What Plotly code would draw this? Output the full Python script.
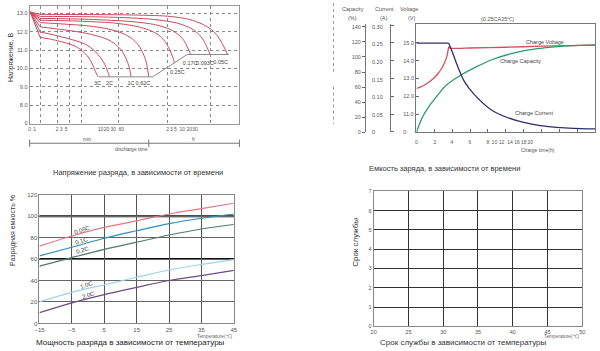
import plotly.graph_objects as go

W, H = 600, 351
def px(x): return x / W
def py(y): return 1 - y / H

FONT = "Liberation Sans, Arial, sans-serif"
GRAYTXT = "#555"

# ---------------- Top-left: discharge voltage vs time ----------------
tl_rates = ["3C", "2C", "1C", "0.62C", "0.25C", "0.17C", "0.093C", "0.05C"]
tl_start_u = 0.5
tl_start_v = 13.08
tl_u = {
    "3C":     [10.7, 20, 28.3, 37, 45, 52, 58.3, 62, 65, 67.5, 69.3],
    "2C":     [10.7, 28.3, 45, 55, 61.7, 67, 71.7, 75.5, 78.3, 80, 81],
    "1C":     [10.7, 28.3, 45, 61.7, 78.3, 87, 93, 97, 100, 102, 103],
    "0.62C":  [10.7, 35, 60, 80, 95, 104, 110, 114, 117.5, 119.5, 121],
    "0.25C":  [10.7, 50, 85, 108, 122, 131, 137, 141, 144, 146, 147],
    "0.17C":  [10.7, 60, 105, 128, 143, 152, 157.5, 160.5, 162.5, 163.3],
    "0.093C": [10.7, 80, 125, 150, 164, 172, 177.5, 181, 183.3],
    "0.05C":  [10.7, 100, 140, 161.7, 176, 185, 191, 195, 198.5, 201],
}
tl_v = {
    "3C":     [11.69, 11.61, 11.51, 11.39, 11.24, 11.02, 10.70, 10.42, 10.06, 9.75, 9.55],
    "2C":     [11.99, 11.78, 11.54, 11.36, 11.15, 10.9, 10.61, 10.3, 9.97, 9.72, 9.55],
    "1C":     [12.27, 12.15, 12.03, 11.87, 11.6, 11.32, 11.0, 10.65, 10.25, 9.85, 9.55],
    "0.62C":  [12.5, 12.42, 12.32, 12.15, 11.9, 11.62, 11.3, 10.95, 10.5, 10.05, 9.55],
    "0.25C":  [12.63, 12.58, 12.48, 12.3, 12.08, 11.82, 11.5, 11.15, 10.8, 10.5, 10.3],
    "0.17C":  [12.73, 12.68, 12.55, 12.38, 12.12, 11.8, 11.45, 11.12, 10.9, 10.76],
    "0.093C": [12.84, 12.8, 12.68, 12.47, 12.18, 11.85, 11.45, 11.05, 10.76],
    "0.05C":  [12.95, 12.92, 12.85, 12.68, 12.4, 12.1, 11.75, 11.4, 11.05, 10.76],
}
tl_label_u = [69, 81, 103, 115, 150, 163, 178, 194]
tl_label_v = [9.18, 9.18, 9.18, 9.18, 9.77, 10.26, 10.26, 10.33]
tl_cut_u = [70, 125, 160, 202]
tl_cut_v = [9.54, 9.54, 10.76, 10.76]
tl_xtickvals = [0, 5, 28, 32, 37, 72, 78, 85, 93, 140, 144, 148, 155, 162, 168]
tl_xticktext = ["0", "1", "2", "3", "5", "10", "20", "30", "60", "2", "3", "5", "10", "20", "30"]
tl_grid_u = [10.7, 28.3, 40, 52.7, 90, 140, 183.3]
tl_ytickvals = [7, 8, 9, 10, 11, 12, 13]
tl_yticktext = ["0", "8.0", "9.0", "10.0", "11.0", "12.0", "13.0"]

# ---------------- Top-right: charge characteristics ----------------
tr_volt_u = [0, 0.5, 1, 1.5, 2, 2.4, 2.8, 3.1, 3.35, 3.5, 3.62, 3.8, 6, 10, 14, 20]
tr_volt = [12.44, 12.53, 12.67, 12.84, 13.05, 13.27, 13.55, 13.85, 14.15, 14.45, 14.78,
           14.7, 14.72, 14.76, 14.82, 14.88]
tr_cur_flat_u = [0, 3.61]
tr_cur_flat = [0.254, 0.254]
tr_cur_u = [3.61, 4.09, 4.64, 5.38, 6.49, 8.32, 10.17, 12.01, 13.85, 15.69, 17.54, 20]
tr_cur = [0.254, 0.2235, 0.186, 0.144, 0.107, 0.065, 0.042, 0.028, 0.0187, 0.014, 0.011, 0.0095]
tr_cap_u = [0, 0.59, 1.33, 2.43, 3.3, 5.0, 6.8, 8.6, 10.5, 12.4, 14.5, 16.5, 20]
tr_cap = [0, 18, 33, 50, 62, 76, 87.5, 97, 104, 109, 112.5, 114.5, 116]
tr_xlabel_vals = [0, 2.07, 3.98, 6, 8, 8.73, 9.54, 10.47, 11.27, 12.01, 12.74]
tr_xlabel_text = ["0", "2", "4", "6", "8", "10", "12", "14", "16", "18", "20"]
tr_xtick_vals = [0, 2, 4, 6, 8, 10, 12, 14, 16, 18, 20]
tr_cap_ticks = [0, 20, 40, 60, 80, 100, 120, 140]
tr_cur_ticks = [0, 0.05, 0.10, 0.15, 0.20, 0.25, 0.30]
tr_cur_text = ["0", "0.05", "0.10", "0.15", "0.20", "0.25", "0.30"]
tr_volt_ticks = [10, 11, 12, 13, 14, 15, 16]
tr_volt_text = ["0", "11.0", "12.0", "13.0", "14.0", "15.0", ""]

# ---------------- Bottom-left: capacity vs temperature ----------------
bl_temp = [-15, -5, 5, 15, 25, 35, 45]
bl_rates = ["0.05C", "0.1C", "0.2C", "1.0C", "2.0C"]
bl_cap = {
    "0.05C": [72, 81.5, 89.5, 95.6, 102, 107, 112],
    "0.1C":  [63, 71, 79.4, 86.4, 93, 98, 102],
    "0.2C":  [53.4, 61.4, 69, 75.7, 82.4, 88, 92.2],
    "1.0C":  [20.2, 29, 36, 43, 49.8, 55, 59.5],
    "2.0C":  [10, 19.2, 26.9, 33.6, 40, 44.6, 49.5],
}
bl_colors = {"0.05C": "#e27a83", "0.1C": "#2b8fc2", "0.2C": "#52786f",
             "1.0C": "#9fd4e6", "2.0C": "#6d4b86"}
bl_label_x = [-1.8, -2.1, -1.6, -0.5, 0.2]
bl_label_y = [87, 77, 68.4, 36, 26.3]
bl_xticks = [-15, -5, 5, 15, 25, 35, 45]
bl_yticks = [0, 20, 40, 60, 80, 100, 120]
bl_bold_lines = [60, 100]

# ---------------- Bottom-right: service life vs temperature ----------------
br_xticks = [20, 25, 30, 35, 40, 45, 50]
br_yticks = [0, 1, 2, 3, 4, 5, 6, 7]

fig = go.Figure()

RED = "#c94a5e"
for r in tl_rates:
    fig.add_trace(go.Scatter(x=[tl_start_u, tl_u[r][0]], y=[tl_start_v, tl_v[r][0]],
                             mode="lines", line=dict(color=RED, width=1),
                             xaxis="x", yaxis="y", hoverinfo="skip"))
    fig.add_trace(go.Scatter(x=tl_u[r], y=tl_v[r], mode="lines",
                             line=dict(color=RED, width=1, shape="spline", smoothing=0.8),
                             xaxis="x", yaxis="y", hoverinfo="skip"))
fig.add_trace(go.Scatter(x=tl_cut_u, y=tl_cut_v, mode="lines",
                         line=dict(color="#8a8a8a", width=1), xaxis="x", yaxis="y"))
fig.add_trace(go.Scatter(x=tl_label_u, y=tl_label_v, mode="text", text=tl_rates,
                         textfont=dict(size=5.5, color="#444", family=FONT),
                         xaxis="x", yaxis="y"))
# anchor trace for the grid overlay axis
fig.add_trace(go.Scatter(x=[None], y=[None], mode="lines", xaxis="x2", yaxis="y",
                         showlegend=False))

# top-right curves
fig.add_trace(go.Scatter(x=tr_volt_u, y=tr_volt, mode="lines",
                         line=dict(color="#d0505c", width=1.3, shape="spline", smoothing=0.5),
                         xaxis="x3", yaxis="y3"))
fig.add_trace(go.Scatter(x=tr_cap_u, y=tr_cap, mode="lines",
                         line=dict(color="#2f9a6a", width=1.3, shape="spline", smoothing=0.8),
                         xaxis="x3", yaxis="y5"))
fig.add_trace(go.Scatter(x=tr_cur_flat_u, y=tr_cur_flat, mode="lines",
                         line=dict(color="#2c2f6e", width=1.3), xaxis="x3", yaxis="y6"))
fig.add_trace(go.Scatter(x=tr_cur_u, y=tr_cur, mode="lines",
                         line=dict(color="#2c2f6e", width=1.3, shape="spline", smoothing=0.8),
                         xaxis="x3", yaxis="y6"))
fig.add_trace(go.Scatter(x=[None], y=[None], mode="lines", xaxis="x4", yaxis="y3"))
fig.add_trace(go.Scatter(x=[None], y=[None], mode="lines", xaxis="x3", yaxis="y4"))

# bottom-left curves
for r in bl_rates:
    fig.add_trace(go.Scatter(x=bl_temp, y=bl_cap[r], mode="lines",
                             line=dict(color=bl_colors[r], width=1.2, shape="spline"),
                             xaxis="x5", yaxis="y7"))
# bottom-right (empty chart)
fig.add_trace(go.Scatter(x=[None], y=[None], mode="lines", xaxis="x6", yaxis="y8"))

tick_font = dict(size=5.5, color=GRAYTXT, family=FONT)

layout = dict(
    width=W, height=H, margin=dict(l=0, r=0, t=0, b=0),
    paper_bgcolor="white", plot_bgcolor="white", showlegend=False,
    font=dict(family=FONT),
    # top-left
    xaxis=dict(domain=[px(25), px(238)], range=[0, 213], anchor="y",
               tickvals=tl_xtickvals, ticktext=tl_xticktext, tickangle=0,
               ticks="", showgrid=False, zeroline=False, showline=True, mirror=True,
               linecolor="#999", linewidth=1, tickfont=dict(size=5, color=GRAYTXT, family=FONT)),
    xaxis2=dict(overlaying="x", anchor="y", range=[0, 213], tickvals=tl_grid_u,
                showticklabels=False, ticks="", showgrid=True, griddash="dot",
                gridcolor="#8a8a8a", gridwidth=1, zeroline=False, showline=False),
    yaxis=dict(domain=[py(123), py(3)], range=[6.97, 13.41], anchor="x",
               tickvals=tl_ytickvals, ticktext=tl_yticktext, ticks="",
               showgrid=True, griddash="dot", gridcolor="#8a8a8a", gridwidth=1,
               zeroline=False, showline=True, mirror=True, linecolor="#999",
               tickfont=tick_font),
    # top-right
    xaxis3=dict(domain=[px(417.7), px(599)], range=[0, 20], anchor="y3",
                tickvals=tr_xtick_vals, ticks="inside", ticklen=3, tickcolor="#666",
                showticklabels=False, showgrid=False, zeroline=False,
                showline=True, mirror=True, linecolor="#777"),
    xaxis4=dict(overlaying="x3", anchor="y3", range=[0, 20],
                tickvals=tr_xlabel_vals, ticktext=tr_xlabel_text, tickangle=0,
                ticks="outside", ticklen=5, tickcolor="rgba(0,0,0,0)",
                showgrid=False, zeroline=False, showline=False,
                tickfont=dict(size=5, color=GRAYTXT, family=FONT)),
    yaxis3=dict(domain=[py(131.5), py(21.7)], range=[9.98, 16.05], anchor="x3",
                tickvals=[11, 12, 13, 14, 15], ticks="inside", ticklen=3, tickcolor="#666",
                showticklabels=False, showgrid=False, zeroline=False,
                showline=True, mirror=True, linecolor="#777"),
    yaxis4=dict(overlaying="y3", anchor="free", position=px(391), side="right",
                range=[9.98, 16.05], tickvals=tr_volt_ticks, ticktext=tr_volt_text,
                ticks="outside", ticklen=3, tickcolor="#666", showline=True,
                linecolor="#777", showgrid=False, zeroline=False, tickfont=tick_font,
                ticklabelstandoff=8),
    yaxis5=dict(overlaying="y3", anchor="free", position=px(365.5), side="left",
                range=[0, 143.4], tickvals=tr_cap_ticks, ticks="outside", ticklen=3,
                tickcolor="#666", showline=True, linecolor="#777", showgrid=False,
                zeroline=False, tickfont=tick_font),
    yaxis6=dict(overlaying="y3", anchor="free", position=px(365.5), side="right",
                range=[0, 0.3073], tickvals=tr_cur_ticks, ticktext=tr_cur_text,
                ticks="", showline=False, showgrid=False, zeroline=False,
                tickfont=tick_font, ticklabelstandoff=6),
    # bottom-left
    xaxis5=dict(domain=[px(35), px(232.3)], range=[-15, 45], anchor="y7",
                tickvals=bl_xticks, ticks="", showgrid=True, gridcolor="#555",
                gridwidth=1, zeroline=False, showline=True, mirror=True,
                linecolor="#888", tickfont=dict(size=6, color=GRAYTXT, family=FONT)),
    yaxis7=dict(domain=[py(326), py(195)], range=[0, 120], anchor="x5",
                tickvals=bl_yticks, ticks="", showgrid=True, gridcolor="#666",
                gridwidth=1, zeroline=False, showline=True, mirror=True,
                linecolor="#888", tickfont=dict(size=6, color=GRAYTXT, family=FONT)),
    # bottom-right
    xaxis6=dict(domain=[px(374.3), px(586)], range=[20, 50], anchor="y8",
                tickvals=br_xticks, ticks="", showgrid=True, gridcolor="#333",
                gridwidth=1, zeroline=False, showline=True, mirror=True,
                linecolor="#888", tickfont=dict(size=5.5, color=GRAYTXT, family=FONT)),
    yaxis8=dict(domain=[py(329), py(191.7)], range=[0, 7], anchor="x6",
                tickvals=br_yticks, ticks="", showgrid=True, gridcolor="#333",
                gridwidth=1, zeroline=False, showline=True, mirror=True,
                linecolor="#888", tickfont=dict(size=5.5, color=GRAYTXT, family=FONT)),
)
fig.update_layout(**layout)

shapes = []
for yv in bl_bold_lines:
    shapes.append(dict(type="line", xref="x5 domain", yref="y7", x0=0, x1=1, y0=yv, y1=yv,
                       line=dict(color="#111", width=2), layer="below"))
# discharge-time scale under top-left chart
shapes.append(dict(type="line", xref="paper", yref="paper", x0=px(25), x1=px(238),
                   y0=py(142.7), y1=py(142.7), line=dict(color="#777", width=1)))
for xx in [25, 146, 238]:
    shapes.append(dict(type="line", xref="paper", yref="paper", x0=px(xx), x1=px(xx),
                       y0=py(139), y1=py(146.5), line=dict(color="#777", width=1)))
# dotted separator
for y0, y1 in [(0, 70), (85, 123)]:
    shapes.append(dict(type="line", xref="paper", yref="paper", x0=px(333.5), x1=px(333.5),
                       y0=py(y0), y1=py(y1), line=dict(color="#999", width=1, dash="dot")))
fig.update_layout(shapes=shapes)

def ann(x, y, text, size, color="#444", angle=0, xanchor="center"):
    return dict(x=px(x), y=py(y), xref="paper", yref="paper", text=text, showarrow=False,
                font=dict(size=size, color=color, family=FONT), textangle=angle,
                xanchor=xanchor, yanchor="middle")

annotations = [
    ann(135, 172, "Напряжение разряда, в зависимости от времени", 7.5, "#333"),
    ann(6, 55, "Напряжение, В", 7, "#333", -90),
    ann(83, 138.5, "min", 5, "#555"),
    ann(191, 138.5, "h", 5, "#555"),
    ann(128, 149, "discharge time", 5, "#555"),
    ann(446.7, 168.3, "Емкость заряда, в зависимости от времени", 7.5, "#333"),
    ann(353, 6.5, "Capacity", 5.5, "#555"),
    ann(353, 15, "(%)", 5.5, "#555"),
    ann(385, 6.5, "Current", 5.5, "#555"),
    ann(385, 15, "(A)", 5.5, "#555"),
    ann(410, 6.5, "Voltage", 5.5, "#555"),
    ann(413, 15, "(V)", 5.5, "#555"),
    ann(500, 16, "(0.25CA25℃)", 5.5, "#555"),
    ann(548, 39.3, "Charge Voltage", 5.5, "#444"),
    ann(523, 59.5, "Charge Capacity", 5.5, "#444"),
    ann(537, 112, "Charge Current", 5.5, "#444"),
    ann(541, 149.5, "Charge time(h)", 5, "#555"),
    ann(127, 345.7, "Мощность разряда в зависимости от температуры", 8, "#222"),
    ann(8.3, 231.7, "Разрядная емкость %", 7, "#333", -90),
    ann(213, 339.3, "Temperature(℃)", 4.8, "#666"),
    ann(465.8, 345.7, "Срок службы в зависимости от температуры", 8, "#333"),
    ann(355, 243.3, "Срок службы", 8, "#333", -90),
    ann(565, 339.3, "Temperature(℃)", 4.8, "#666"),
]
for r, xv, yv in zip(bl_rates, bl_label_x, bl_label_y):
    annotations.append(dict(x=xv, y=yv, xref="x5", yref="y7", text=r, showarrow=False,
                            font=dict(size=6, color="#333", family=FONT), textangle=-18))
fig.update_layout(annotations=annotations)

fig.write_html("out.html")
